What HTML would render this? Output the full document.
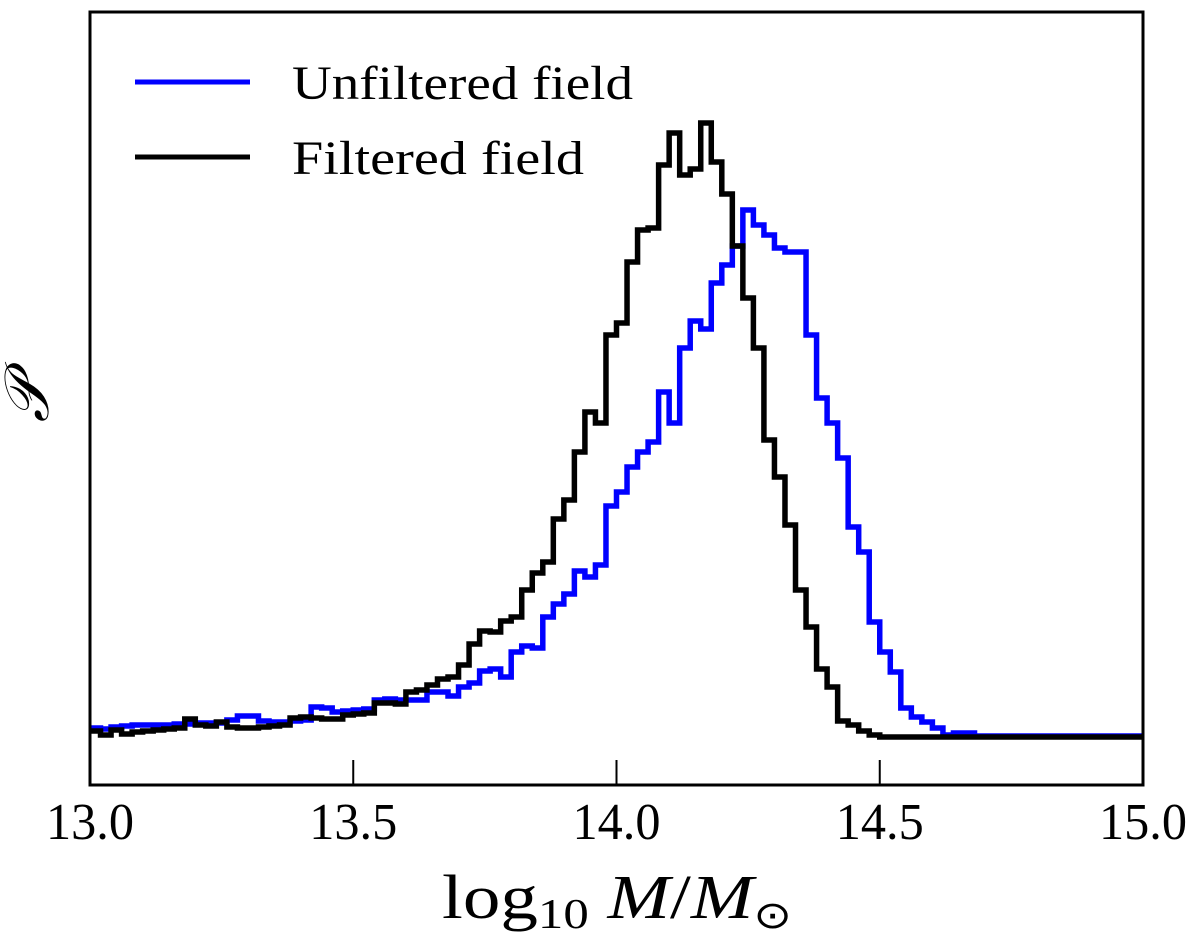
<!DOCTYPE html>
<html><head><meta charset="utf-8"><style>
html,body{margin:0;padding:0;background:#fff;width:1200px;height:948px;overflow:hidden}
svg text{font-family:"Liberation Serif",serif;fill:#000}
</style></head><body>
<svg id="chart" width="1200" height="948" viewBox="0 0 1200 948" xmlns="http://www.w3.org/2000/svg">
<g id="ticks"></g>
<g id="series"></g>
<rect x="90" y="12" width="1053" height="773" fill="none" stroke="#000" stroke-width="3"/>
<g>
<line x1="135" y1="82" x2="250" y2="82" stroke="#0000ff" stroke-width="5"/>
<text x="292" y="99" font-size="48" textLength="341" lengthAdjust="spacingAndGlyphs">Unfiltered field</text>
<line x1="135" y1="157" x2="250" y2="157" stroke="#000" stroke-width="5"/>
<text x="292" y="174" font-size="48" textLength="292" lengthAdjust="spacingAndGlyphs">Filtered field</text>
</g>
<text x="442" y="918" font-size="62" textLength="350" lengthAdjust="spacingAndGlyphs">log<tspan font-size="42" dy="10">10</tspan><tspan dy="-10" font-style="italic"> M</tspan>/<tspan font-style="italic">M</tspan><tspan font-size="38" dy="10">⊙</tspan></text>
<text x="48" y="400" font-size="62" font-style="italic" text-anchor="middle" transform="rotate(-90 48 400)">𝒫</text>
</svg>
<script>
const binStart = 13.0;
const binWidth = 0.02;
const xTicks = [13.0, 13.5, 14.0, 14.5, 15.0];
const xTickLabels = ["13.0", "13.5", "14.0", "14.5", "15.0"];
// density values (arbitrary units), 100 bins from 13.0 to 15.0
const unfiltered = [9,8,10,11,12,12,12,12,13,13,14,14,14,17,21,21,16,15,15,16,17,30,29,25,26,27,28,37,38,37,37,37,45,45,41,50,54,66,68,60,85,91,89,120,133,143,166,160,172,231,245,270,285,295,345,314,389,416,408,454,472,491,527,512,502,489,485,485,402,339,314,279,210,185,115,85,65,29,20,15,9,2,4,4,1,1,1,1,1,1,1,1,1,1,1,1,1,1,1,1];
const filtered = [6,2,7,3,5,6,7,8,9,18,12,11,15,10,9,9,10,11,12,19,20,19,18,18,22,23,24,34,34,33,45,47,52,58,60,72,93,106,105,116,120,147,164,175,218,237,285,325,314,402,414,475,507,509,572,604,562,568,614,575,543,491,439,389,297,260,212,147,110,68,50,16,12,6,2,0,0,0,0,0,0,0,0,0,0,0,0,0,0,0,0,0,0,0,0,0,0,0,0,0];

const NS='http://www.w3.org/2000/svg';
const X0=90, X1=1143, BASE=737;
function xs(v){return X0+(v-13)/(15-13)*(X1-X0);}
function ys(v){return BASE-v;}

const tg=document.getElementById('ticks');
xTicks.forEach((t,i)=>{
  const l=document.createElementNS(NS,'line');
  
  
  l.setAttribute('x1',xs(t));l.setAttribute('x2',xs(t));
  l.setAttribute('y1',785);l.setAttribute('y2',760);
  l.setAttribute('stroke','#000');l.setAttribute('stroke-width','2');
  tg.appendChild(l);
  const tx=document.createElementNS(NS,'text');
  
  
  tx.setAttribute('x',xs(t)-44);tx.setAttribute('y',839);
  tx.setAttribute('font-size','52');
  tx.setAttribute('textLength','88');tx.setAttribute('lengthAdjust','spacingAndGlyphs');
  tx.textContent=xTickLabels[i];
  tg.appendChild(tx);
});

function stepPath(vals){
  let d='M'+xs(binStart)+','+ys(vals[0]);
  vals.forEach((v,i)=>{
    const a=xs(binStart+i*binWidth), b=xs(binStart+(i+1)*binWidth);
    d+=' L'+a+','+ys(v)+' L'+b+','+ys(v);
  });
  return d;
}
const sg=document.getElementById('series');
[[unfiltered,'#0000ff','unfiltered-histogram'],[filtered,'#000000','filtered-histogram']].forEach(s=>{
  const p=document.createElementNS(NS,'path');
  
  
  p.setAttribute('d',stepPath(s[0]));
  p.setAttribute('fill','none');p.setAttribute('stroke',s[1]);
  p.setAttribute('stroke-width','5.5');p.setAttribute('stroke-linejoin','miter');
  sg.appendChild(p);
});
</script>
</body></html>
